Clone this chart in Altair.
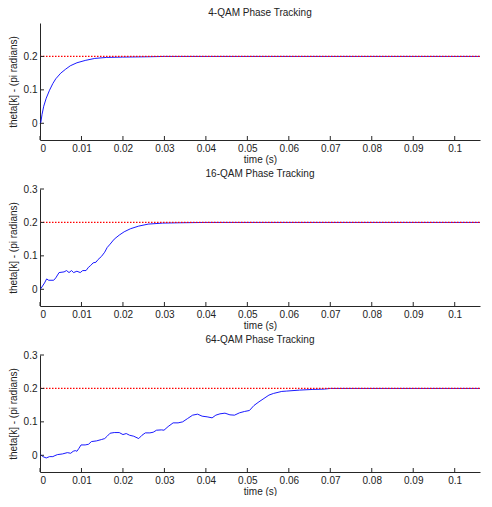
import altair as alt
import pandas as pd

# ---- data ----
t4 = [0.0, 0.0002, 0.0005, 0.0009, 0.0015, 0.0023, 0.0031, 0.0038, 0.0050, 0.0062,
      0.0073, 0.0089, 0.0109, 0.0132, 0.0160, 0.0199, 0.0261, 0.0300, 0.1061]
v4 = [0.0, 0.003, 0.027, 0.051, 0.075, 0.099, 0.119, 0.133, 0.150, 0.162,
      0.172, 0.181, 0.188, 0.194, 0.197, 0.198, 0.199, 0.200, 0.200]

t16 = [0.0, 0.0002, 0.0011, 0.0016, 0.0021, 0.0033, 0.0038, 0.0046, 0.0058, 0.0064,
       0.0070, 0.0076, 0.0081, 0.0089, 0.0097, 0.0103, 0.0111, 0.0117, 0.0122, 0.0128,
       0.0135, 0.0140, 0.0148, 0.0156, 0.0162, 0.0169, 0.0179, 0.0191, 0.0203, 0.0218,
       0.0238, 0.0261, 0.0296, 0.0337, 0.0400, 0.1061]
v16 = [0.0, 0.002, 0.019, 0.031, 0.027, 0.027, 0.034, 0.050, 0.052, 0.056,
       0.050, 0.056, 0.050, 0.054, 0.050, 0.056, 0.056, 0.066, 0.071, 0.079,
       0.081, 0.089, 0.098, 0.111, 0.125, 0.135, 0.150, 0.162, 0.172, 0.181,
       0.189, 0.195, 0.198, 0.199, 0.200, 0.200]

t64 = [0.0, 0.0002, 0.0007, 0.0015, 0.0023, 0.0031, 0.0036, 0.0042, 0.0054, 0.0066,
       0.0074, 0.0080, 0.0085, 0.0089, 0.0094, 0.0099, 0.0109, 0.0117, 0.0124, 0.0136,
       0.0148, 0.0156, 0.0162, 0.0169, 0.0179, 0.0191, 0.0200, 0.0208, 0.0216, 0.0226,
       0.0238, 0.0246, 0.0254, 0.0265, 0.0273, 0.0281, 0.0293, 0.0299, 0.0309, 0.0321,
       0.0333, 0.0344, 0.0356, 0.0368, 0.0380, 0.0391, 0.0403, 0.0415, 0.0424, 0.0434,
       0.0446, 0.0458, 0.0469, 0.0481, 0.0493, 0.0505, 0.0516, 0.0528, 0.0540, 0.0552,
       0.0563, 0.0583, 0.0594, 0.0626, 0.0658, 0.0686, 0.0700, 0.1061]
v64 = [0.0, 0.001, -0.004, -0.008, -0.004, -0.004, -0.001, 0.002, 0.004, 0.008,
       0.006, 0.012, 0.014, 0.012, 0.021, 0.031, 0.031, 0.033, 0.041, 0.043,
       0.047, 0.050, 0.057, 0.066, 0.068, 0.068, 0.062, 0.065, 0.060, 0.057,
       0.050, 0.060, 0.067, 0.067, 0.069, 0.075, 0.076, 0.075, 0.086, 0.097,
       0.097, 0.100, 0.110, 0.120, 0.123, 0.117, 0.115, 0.112, 0.120, 0.124,
       0.126, 0.121, 0.120, 0.127, 0.131, 0.134, 0.149, 0.160, 0.170, 0.180,
       0.185, 0.191, 0.192, 0.195, 0.197, 0.198, 0.200, 0.200]

ref_t = [0.0, 0.1061]
ref_v = [0.2, 0.2]

x_ticks = [0.0, 0.01, 0.02, 0.03, 0.04, 0.05, 0.06, 0.07, 0.08, 0.09, 0.1]
y_ticks_top = [0.0, 0.1, 0.2]
y_ticks = [0.0, 0.1, 0.2, 0.3]

titles = ["4-QAM Phase Tracking", "16-QAM Phase Tracking", "64-QAM Phase Tracking"]

X_DOMAIN = [0.0, 0.1061]
Y_DOMAIN = [-0.05, 0.3]
W, H = 440, 117
AX = "#262626"


def panel(ts, vs, title, yt):
    x = alt.X("t:Q", scale=alt.Scale(domain=X_DOMAIN, nice=False, zero=False),
              axis=alt.Axis(values=x_ticks, format=".2~f", title="time (s)", grid=False))
    y = alt.Y("v:Q", scale=alt.Scale(domain=Y_DOMAIN, nice=False, zero=False),
              axis=alt.Axis(values=yt, format=".1~f", title="theta[k] - (pi radians)", grid=False))
    curve = alt.Chart(pd.DataFrame({"t": ts, "v": vs})).mark_line(
        color="#0000ff", strokeWidth=0.9, interpolate="linear").encode(x=x, y=y)
    ref = alt.Chart(pd.DataFrame({"t": ref_t, "v": ref_v})).mark_line(
        color="#ff0000", strokeWidth=1.2, strokeDash=[1.5, 1.5]).encode(x=x, y=y)
    xt = alt.Chart(pd.DataFrame({"t": x_ticks})).mark_rule(color=AX, strokeWidth=1).encode(
        x=x, y=alt.value(H), y2=alt.value(H - 4))
    yt_r = alt.Chart(pd.DataFrame({"v": yt})).mark_rule(color=AX, strokeWidth=1).encode(
        y=y, x=alt.value(0), x2=alt.value(4))
    return alt.layer(curve, ref, xt, yt_r).properties(
        width=W, height=H, title=alt.TitleParams(title))


chart = alt.vconcat(
    panel(t4, v4, titles[0], y_ticks_top),
    panel(t16, v16, titles[1], y_ticks),
    panel(t64, v64, titles[2], y_ticks),
    spacing=5,
    padding={"left": 0, "right": 0, "top": 0, "bottom": 0},
    background="white",
).configure_view(
    stroke=None
).configure_axis(
    domainColor=AX, domainWidth=1, tickSize=0, labelFont="Liberation Sans", labelFontSize=10,
    labelColor="#222", titleFont="Liberation Sans", titleFontSize=10, titleColor="#222",
    titleFontWeight="normal", labelPadding=3
).configure_axisY(
    labelPadding=3, titlePadding=5
).configure_axisX(
    titlePadding=1
).configure_title(
    font="Liberation Sans", fontSize=10, fontWeight="normal", color="#222", offset=5, anchor="middle"
)

chart.save("out.html", embed_options={"renderer": "svg", "actions": False})
